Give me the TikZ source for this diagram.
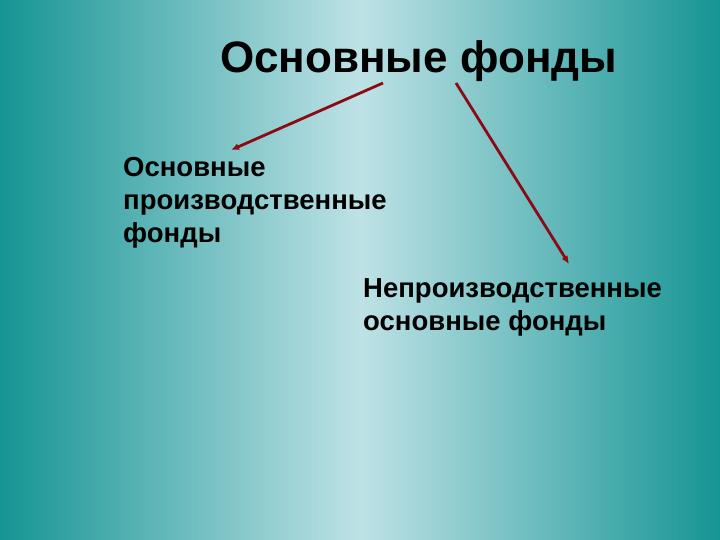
\documentclass[tikz,border=0pt]{standalone}
\usepackage{fontspec}
\setmainfont{Liberation Sans}
\usetikzlibrary{arrows.meta}
\definecolor{edgeteal}{RGB}{22,148,148}
\definecolor{midblue}{RGB}{190,226,230}
\definecolor{arrowred}{RGB}{140,10,20}

\begin{document}
\begin{tikzpicture}[x=1pt, y=-1pt,
		heading/.style={inner sep=0pt, font=\fontsize{44}{52}\selectfont\bfseries},
		label/.style={inner sep=0pt, align=left, font=\fontsize{27.5}{33}\selectfont\bfseries},
		link/.style={-{Latex[length=8pt, width=7pt]}, line width=2.8pt, color=arrowred}]
			% background
			\shade[left color=edgeteal, right color=edgeteal, middle color=midblue] (0,0) rectangle (720,540);
			\useasboundingbox (0,0) rectangle (720,540);

			\node[heading, anchor=base west] (title) at (220, 73) {Основные фонды};
			\node[label, anchor=north west] (prod) at (123, 157) {Основные\\производственные\\фонды};
			\node[label, anchor=north west] (nonprod) at (363, 278) {Непроизводственные\\основные фонды};

			\coordinate (lstart) at (383, 83);
			\coordinate (lend) at (231, 150);
			\coordinate (rstart) at (456, 83);
			\coordinate (rend) at (569, 264);
			\draw[link] (lstart) to (lend);
			\draw[link] (rstart) to (rend);
		\end{tikzpicture}
\end{document}
